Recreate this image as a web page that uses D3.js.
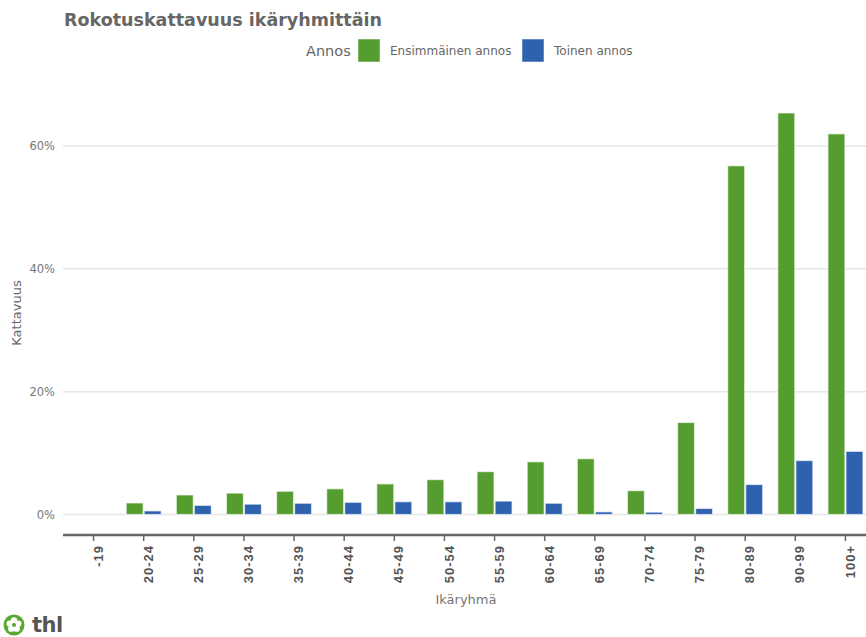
<!DOCTYPE html>
<html>
<head>
<meta charset="utf-8">
<script src="https://cdn.jsdelivr.net/npm/d3@7"></script>
<style>
  body { margin: 0; background: #fff; }
  svg { display: block; font-family: "DejaVu Sans", sans-serif; }
</style>
</head>
<body>
<svg width="866" height="637"></svg>
<script>
const ageGroups = ["-19", "20-24", "25-29", "30-34", "35-39", "40-44", "45-49", "50-54",
  "55-59", "60-64", "65-69", "70-74", "75-79", "80-89", "90-99", "100+"];
const seriesNames = ["Ensimmäinen annos", "Toinen annos"];
const firstDose = [0, 1.8, 3.1, 3.4, 3.7, 4.1, 4.9, 5.6, 6.9, 8.5, 9.0, 3.8, 14.9, 56.7, 65.3, 61.9];
const secondDose = [0, 0.5, 1.4, 1.6, 1.75, 1.9, 2.0, 2.0, 2.1, 1.75, 0.35, 0.3, 0.9, 4.8, 8.7, 10.2];
const yTicks = [0, 20, 40, 60];
const colors = ["#559d2f", "#2e62ae"];

const svg = d3.select("svg");

const x = d3.scaleBand().domain(ageGroups).range([68.5, 870.5]);
const xs = d3.scaleBand().domain(seriesNames).range([-17.5, 17.5]).paddingInner(0.06);
const y = d3.scaleLinear().domain([0, 70]).range([514.5, 84.6]);

// title
svg.append("text")
  .attr("x", 64).attr("y", 26)
  .attr("font-size", 17.5).attr("font-weight", "bold")
  .attr("fill", "#666")
  .text("Rokotuskattavuus ikäryhmittäin");

// legend
const leg = svg.append("g").attr("font-size", 12).attr("fill", "#666");
leg.append("text").attr("x", 306).attr("y", 56).attr("font-size", 14.5).text("Annos");
const legX = [358, 522];
seriesNames.forEach((s, i) => {
  leg.append("rect").attr("x", legX[i]).attr("y", 39).attr("width", 22).attr("height", 23)
    .attr("fill", colors[i]).attr("stroke", "#fff").attr("stroke-opacity", 0.5);
  leg.append("text").attr("x", legX[i] + 32).attr("y", 55).text(s);
});

// gridlines
svg.append("g").selectAll("line").data(yTicks).join("line")
  .attr("x1", 63).attr("x2", 866)
  .attr("y1", d => y(d)).attr("y2", d => y(d))
  .attr("stroke", "#e6e6e6").attr("stroke-width", 1.5);

// y tick labels
svg.append("g").selectAll("text").data(yTicks).join("text")
  .attr("x", 55).attr("y", d => y(d) + 4)
  .attr("text-anchor", "end").attr("font-size", 11.5).attr("fill", "#777")
  .text(d => d + "%");

svg.append("text")
  .attr("transform", "translate(21,313) rotate(-90)")
  .attr("text-anchor", "middle").attr("font-size", 13).attr("fill", "#666")
  .text("Kattavuus");

// bars
const rows = ageGroups.map((g, i) => ({ g, vals: [firstDose[i], secondDose[i]] }));
const grp = svg.append("g").selectAll("g").data(rows).join("g")
  .attr("transform", d => `translate(${x(d.g) + x.bandwidth() / 2},0)`);
grp.selectAll("rect").data(d => d.vals.map((v, i) => ({ v, s: seriesNames[i], i })))
  .join("rect")
  .filter(d => d.v > 0)
  .attr("x", d => xs(d.s))
  .attr("width", xs.bandwidth())
  .attr("y", d => y(d.v) - 0.5)
  .attr("height", d => y(0) - y(d.v) + 0.5)
  .attr("fill", d => colors[d.i])
  .attr("stroke", "#fff").attr("stroke-opacity", 0.6).attr("stroke-width", 1.2);

// x axis
const xAxis = svg.append("g").attr("transform", "translate(0,535)")
  .call(d3.axisBottom(x).tickSize(6).tickSizeOuter(0));
xAxis.select(".domain").remove();
xAxis.insert("line", ":first-child").attr("x1", 63).attr("x2", 866)
  .attr("stroke", "#666").attr("stroke-width", 2.5);
xAxis.selectAll(".tick line").attr("stroke", "#666").attr("stroke-width", 1.5);
xAxis.selectAll(".tick text")
  .attr("font-size", 13).attr("font-weight", "bold").attr("fill", "#555")
  .attr("letter-spacing", 1)
  .attr("transform", "rotate(-90)")
  .attr("text-anchor", "end")
  .attr("x", -10).attr("y", 4.5).attr("dy", "0.35em");

svg.append("text")
  .attr("x", 466).attr("y", 604)
  .attr("text-anchor", "middle").attr("font-size", 13).attr("fill", "#777")
  .text("Ikäryhmä");

// thl logo
const logo = svg.append("g").attr("transform", "translate(14,625)");
logo.append("circle").attr("r", 10.5).attr("fill", "#5aa832");
d3.range(5).forEach(k => {
  const a = k * 72 * Math.PI / 180 - Math.PI / 2;
  logo.append("circle").attr("cx", Math.cos(a) * 4.5).attr("cy", Math.sin(a) * 4.5)
    .attr("r", 3.2).attr("fill", "#fff");
});
logo.append("circle").attr("r", 2).attr("fill", "#5aa832");
svg.append("text").attr("x", 32).attr("y", 632)
  .attr("font-size", 21).attr("font-weight", "bold").attr("fill", "#555")
  .attr("letter-spacing", -0.5)
  .text("thl");
</script>
</body>
</html>
